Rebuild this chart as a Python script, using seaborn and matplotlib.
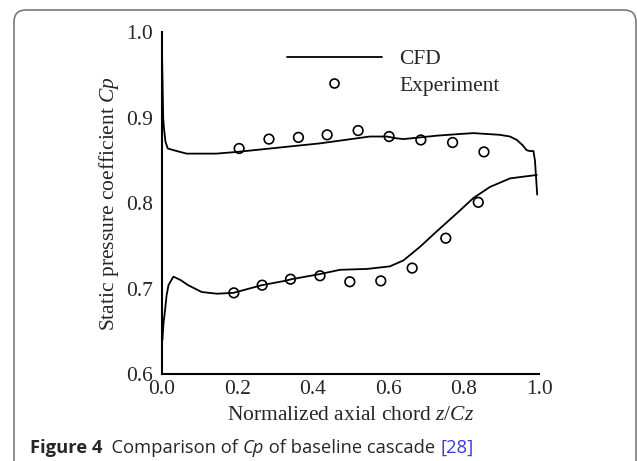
import matplotlib
matplotlib.use("Agg")
import matplotlib.pyplot as plt
import matplotlib.transforms as mtransforms
from matplotlib.patches import FancyBboxPatch
from matplotlib.lines import Line2D
import pandas as pd
import seaborn as sns

# CFD pressure distribution, suction side (upper branch)
cfd_upper_x = [0.000, 0.002, 0.004, 0.006, 0.010, 0.016, 0.040, 0.066, 0.145, 0.200,
               0.287, 0.419, 0.551, 0.596, 0.620, 0.640, 0.684, 0.728, 0.790, 0.825,
               0.895, 0.922, 0.940, 0.955, 0.966, 0.975, 0.984, 0.988, 0.991, 0.994]
cfd_upper_y = [0.995, 0.950, 0.900, 0.888, 0.872, 0.864, 0.861, 0.858, 0.858, 0.860,
               0.864, 0.870, 0.878, 0.878, 0.876, 0.875, 0.877, 0.879, 0.881, 0.882,
               0.880, 0.878, 0.874, 0.868, 0.862, 0.861, 0.861, 0.850, 0.830, 0.810]

# CFD pressure distribution, pressure side (lower branch)
cfd_lower_x = [0.002, 0.005, 0.009, 0.013, 0.018, 0.031, 0.050, 0.070, 0.106, 0.146,
               0.190, 0.265, 0.326, 0.344, 0.419, 0.472, 0.543, 0.604, 0.640, 0.684,
               0.728, 0.781, 0.825, 0.869, 0.922, 0.957, 0.993]
cfd_lower_y = [0.640, 0.660, 0.675, 0.692, 0.704, 0.714, 0.710, 0.704, 0.696, 0.694,
               0.695, 0.704, 0.709, 0.711, 0.717, 0.722, 0.723, 0.726, 0.733, 0.749,
               0.767, 0.788, 0.806, 0.819, 0.829, 0.831, 0.833]

# Measured static pressure taps
exp_upper_x = [0.205, 0.284, 0.362, 0.438, 0.520, 0.602, 0.686, 0.770, 0.853]
exp_upper_y = [0.864, 0.875, 0.877, 0.880, 0.885, 0.878, 0.874, 0.871, 0.860]
exp_lower_x = [0.191, 0.266, 0.341, 0.419, 0.498, 0.580, 0.663, 0.752, 0.838]
exp_lower_y = [0.695, 0.704, 0.711, 0.715, 0.708, 0.709, 0.724, 0.759, 0.801]

x_ticks = [0.0, 0.2, 0.4, 0.6, 0.8, 1.0]
y_ticks = [0.6, 0.7, 0.8, 0.9, 1.0]

sns.set_style("white")
plt.rcParams["font.family"] = ["Liberation Serif", "DejaVu Serif"]
plt.rcParams["mathtext.fontset"] = "custom"
plt.rcParams["mathtext.rm"] = "Liberation Serif"
plt.rcParams["mathtext.it"] = "Liberation Serif:italic"

cfd = pd.concat([
    pd.DataFrame({"x": cfd_upper_x, "y": cfd_upper_y, "side": "upper"}),
    pd.DataFrame({"x": cfd_lower_x, "y": cfd_lower_y, "side": "lower"}),
], ignore_index=True)
exp = pd.DataFrame({"x": exp_upper_x + exp_lower_x, "y": exp_upper_y + exp_lower_y})

fig = plt.figure(figsize=(6.37, 4.61), dpi=100)
ax = fig.add_axes([0.2538, 0.1887, 0.5931, 0.7412])

sns.lineplot(data=cfd, x="x", y="y", units="side", estimator=None, sort=False,
             color="black", lw=1.3, ax=ax, legend=False)
sns.scatterplot(data=exp, x="x", y="y", marker="o", s=48, facecolor="none",
                edgecolor="black", linewidth=1.2, ax=ax, legend=False, zorder=3)

ax.set_xlim(0, 1.0)
ax.set_ylim(0.6, 1.0)
ax.set_xticks(x_ticks)
ax.set_yticks(y_ticks)
ax.set_xticklabels([f"{v:.1f}" for v in x_ticks])
ax.set_yticklabels([f"{v:.1f}" for v in y_ticks])
ax.tick_params(direction="in", length=8, width=1.4, labelsize=15.5, color="black")
ax.tick_params(axis="x", pad=4)
ax.tick_params(axis="y", pad=6)
for side in ("top", "right"):
    ax.spines[side].set_visible(False)
for side in ("left", "bottom"):
    ax.spines[side].set_linewidth(1.5)
    ax.spines[side].set_color("black")

ax.set_xlabel("Normalized axial chord $z/Cz$", fontsize=15.5, labelpad=5)
ax.set_ylabel("Static pressure coefficient $Cp$", fontsize=15.5, labelpad=4)

handles = [
    Line2D([], [], color="black", lw=1.3),
    Line2D([], [], color="black", marker="o", ls="none", markersize=6.5,
           markerfacecolor="none", markeredgewidth=1.2),
]
ax.legend(handles, ["CFD", "Experiment"], loc="upper left",
          bbox_to_anchor=(0.332, 0.95), frameon=False, fontsize=15.5,
          handlelength=4.4, handletextpad=0.8, labelspacing=0.28, borderpad=0,
          borderaxespad=0)

# Rounded frame around the figure panel
frame = FancyBboxPatch((14, -30), 622, 481, boxstyle="round,pad=0,rounding_size=12",
                       transform=mtransforms.IdentityTransform(), facecolor="none",
                       edgecolor="#7a7a7a", lw=1.2, clip_on=False)
fig.patches.append(frame)

# Caption built from consecutive text runs
cap_font = ["Open Sans", "DejaVu Sans"]
cap_size = 13.2
cap_y = 1 - 448 / 461
t1 = fig.text(30 / 637, cap_y, "Figure 4", family=cap_font, weight="bold",
              fontsize=cap_size, va="center", ha="left")
t2 = fig.text(0, 0, "  Comparison of ", family=cap_font, fontsize=cap_size)
t3 = fig.text(0, 0, "Cp", family=cap_font, fontsize=cap_size, style="italic")
t4 = fig.text(0, 0, " of baseline cascade ", family=cap_font, fontsize=cap_size)
t5 = fig.text(0, 0, "[28]", family=cap_font, fontsize=cap_size, color="#3a3ad6")

fig.canvas.draw()
renderer = fig.canvas.get_renderer()
inv = fig.transFigure.inverted()
prev = t1
for t in (t2, t3, t4, t5):
    bb = prev.get_window_extent(renderer)
    x0, _ = inv.transform((bb.x1, bb.y0))
    t.set_position((x0, cap_y))
    t.set_va("center")
    t.set_ha("left")
    fig.canvas.draw()
    prev = t

fig.savefig("out.png", dpi=100, facecolor="white")
